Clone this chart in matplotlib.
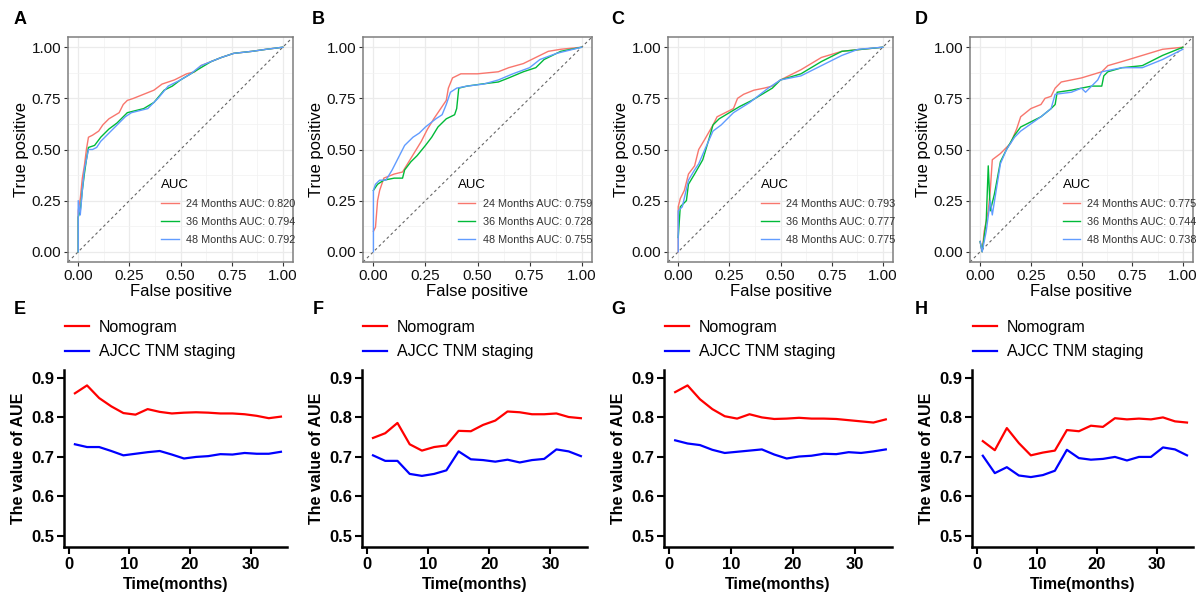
import matplotlib
matplotlib.use("Agg")
import matplotlib.pyplot as plt
import numpy as np

plt.rcParams['font.family'] = ['Liberation Sans', 'DejaVu Sans']

roc_colors = ['#F8766D', '#00BA38', '#619CFF']
roc_names = ['24 Months AUC: ', '36 Months AUC: ', '48 Months AUC: ']

# ROC curves, (false positive, true positive)
roc_a_24 = [(0, 0), (0, 0.2), (0.01, 0.26), (0.02, 0.36), (0.03, 0.42), (0.04, 0.5),
            (0.05, 0.56), (0.07, 0.57), (0.1, 0.59), (0.12, 0.62), (0.15, 0.65),
            (0.2, 0.68), (0.22, 0.72), (0.24, 0.74), (0.27, 0.75), (0.32, 0.77),
            (0.37, 0.79), (0.41, 0.82), (0.47, 0.84), (0.53, 0.87), (0.57, 0.88),
            (0.6, 0.91), (0.65, 0.93), (0.7, 0.95), (0.76, 0.97), (0.85, 0.98),
            (0.92, 0.99), (1, 1)]
roc_a_36 = [(0, 0), (0, 0.17), (0.01, 0.2), (0.02, 0.3), (0.03, 0.38), (0.04, 0.45),
            (0.05, 0.51), (0.08, 0.52), (0.11, 0.56), (0.15, 0.6), (0.19, 0.63),
            (0.24, 0.68), (0.28, 0.69), (0.32, 0.7), (0.37, 0.73), (0.42, 0.79),
            (0.46, 0.81), (0.5, 0.84), (0.55, 0.87), (0.6, 0.9), (0.65, 0.93),
            (0.7, 0.95), (0.76, 0.97), (0.85, 0.98), (0.92, 0.99), (1, 1)]
roc_a_48 = [(0, 0), (0, 0.25), (0.01, 0.18), (0.02, 0.3), (0.03, 0.4), (0.05, 0.5),
            (0.07, 0.5), (0.09, 0.51), (0.11, 0.54), (0.15, 0.58), (0.19, 0.62),
            (0.23, 0.66), (0.26, 0.68), (0.3, 0.69), (0.34, 0.7), (0.39, 0.75),
            (0.44, 0.81), (0.5, 0.84), (0.55, 0.87), (0.6, 0.91), (0.65, 0.93),
            (0.7, 0.95), (0.76, 0.97), (0.85, 0.98), (0.92, 0.99), (1, 1)]
auc_a = ['0.820', '0.794', '0.792']

roc_b_24 = [(0, 0.1), (0.01, 0.12), (0.02, 0.25), (0.03, 0.3), (0.05, 0.36),
            (0.1, 0.38), (0.14, 0.39), (0.17, 0.44), (0.2, 0.49), (0.23, 0.54),
            (0.26, 0.6), (0.29, 0.65), (0.31, 0.68), (0.33, 0.71), (0.35, 0.74),
            (0.36, 0.8), (0.38, 0.85), (0.42, 0.87), (0.5, 0.87), (0.6, 0.88),
            (0.65, 0.9), (0.72, 0.92), (0.78, 0.95), (0.84, 0.98), (0.9, 0.99), (1, 1)]
roc_b_36 = [(0, 0.3), (0.02, 0.33), (0.05, 0.35), (0.1, 0.36), (0.14, 0.36),
            (0.15, 0.4), (0.18, 0.44), (0.21, 0.47), (0.25, 0.52), (0.28, 0.56),
            (0.31, 0.61), (0.35, 0.65), (0.39, 0.67), (0.4, 0.7), (0.41, 0.8),
            (0.45, 0.81), (0.52, 0.82), (0.6, 0.83), (0.65, 0.85), (0.72, 0.88),
            (0.78, 0.9), (0.82, 0.94), (0.9, 0.98), (1, 1)]
roc_b_48 = [(0, 0), (0, 0.3), (0.01, 0.33), (0.03, 0.35), (0.06, 0.35), (0.09, 0.4),
            (0.12, 0.46), (0.15, 0.52), (0.19, 0.56), (0.22, 0.58), (0.25, 0.61),
            (0.3, 0.65), (0.33, 0.67), (0.35, 0.72), (0.37, 0.78), (0.4, 0.8),
            (0.45, 0.81), (0.53, 0.82), (0.6, 0.84), (0.67, 0.87), (0.75, 0.9),
            (0.8, 0.94), (0.88, 0.97), (1, 1)]
auc_b = ['0.759', '0.728', '0.755']

roc_c_24 = [(0, 0), (0, 0.22), (0.01, 0.26), (0.03, 0.3), (0.05, 0.38), (0.08, 0.42),
            (0.1, 0.5), (0.13, 0.55), (0.17, 0.62), (0.19, 0.66), (0.23, 0.68),
            (0.27, 0.7), (0.29, 0.75), (0.32, 0.77), (0.37, 0.79), (0.42, 0.8),
            (0.46, 0.81), (0.5, 0.84), (0.6, 0.89), (0.7, 0.95), (0.8, 0.98), (1, 1)]
roc_c_36 = [(0, 0.07), (0.01, 0.22), (0.04, 0.25), (0.05, 0.33), (0.08, 0.38),
            (0.12, 0.45), (0.15, 0.55), (0.17, 0.62), (0.2, 0.65), (0.25, 0.68),
            (0.3, 0.71), (0.36, 0.74), (0.41, 0.77), (0.46, 0.8), (0.5, 0.84),
            (0.6, 0.87), (0.7, 0.93), (0.8, 0.98), (1, 1)]
roc_c_48 = [(0, 0), (0, 0.2), (0.02, 0.22), (0.05, 0.35), (0.08, 0.4), (0.1, 0.43),
            (0.13, 0.5), (0.17, 0.59), (0.21, 0.62), (0.27, 0.68), (0.35, 0.73),
            (0.44, 0.8), (0.5, 0.84), (0.6, 0.86), (0.7, 0.91), (0.8, 0.96),
            (0.88, 0.99), (1, 1)]
auc_c = ['0.793', '0.777', '0.775']

roc_d_24 = [(0, 0.05), (0.01, 0.0), (0.02, 0.1), (0.04, 0.2), (0.05, 0.3),
            (0.06, 0.45), (0.1, 0.48), (0.15, 0.53), (0.18, 0.6), (0.2, 0.66),
            (0.25, 0.7), (0.3, 0.72), (0.32, 0.75), (0.35, 0.76), (0.37, 0.8),
            (0.4, 0.83), (0.5, 0.85), (0.6, 0.88), (0.63, 0.91), (0.7, 0.93),
            (0.8, 0.96), (0.9, 0.99), (1, 1)]
roc_d_36 = [(0, 0.05), (0.01, 0.0), (0.03, 0.15), (0.04, 0.42), (0.05, 0.2),
            (0.07, 0.28), (0.1, 0.44), (0.13, 0.5), (0.17, 0.57), (0.2, 0.61),
            (0.3, 0.66), (0.35, 0.7), (0.37, 0.72), (0.38, 0.78), (0.45, 0.79),
            (0.55, 0.81), (0.6, 0.81), (0.61, 0.86), (0.63, 0.88), (0.7, 0.9),
            (0.8, 0.91), (0.9, 0.96), (1, 1)]
roc_d_48 = [(0, 0.05), (0.01, 0.0), (0.03, 0.1), (0.05, 0.25), (0.06, 0.18),
            (0.1, 0.43), (0.13, 0.5), (0.17, 0.56), (0.2, 0.59), (0.3, 0.66),
            (0.35, 0.7), (0.37, 0.77), (0.45, 0.78), (0.5, 0.8), (0.52, 0.78),
            (0.58, 0.84), (0.6, 0.88), (0.7, 0.9), (0.8, 0.9), (0.9, 0.94), (1, 0.99)]
auc_d = ['0.775', '0.744', '0.738']

# time dependent AUC
time_months = [1, 3, 5, 7, 9, 11, 13, 15, 17, 19, 21, 23, 25, 27, 29, 31, 33, 35]
nomo_e = [0.861, 0.881, 0.849, 0.828, 0.811, 0.807, 0.821, 0.814, 0.810, 0.812,
          0.813, 0.812, 0.810, 0.810, 0.808, 0.804, 0.798, 0.802]
ajcc_e = [0.732, 0.725, 0.725, 0.715, 0.704, 0.708, 0.712, 0.715, 0.706, 0.696,
          0.700, 0.702, 0.707, 0.706, 0.710, 0.708, 0.708, 0.713]
nomo_f = [0.748, 0.760, 0.786, 0.732, 0.716, 0.725, 0.729, 0.766, 0.765, 0.781,
          0.792, 0.815, 0.813, 0.808, 0.808, 0.810, 0.801, 0.798]
ajcc_f = [0.704, 0.690, 0.690, 0.657, 0.652, 0.657, 0.666, 0.714, 0.694, 0.692,
          0.688, 0.693, 0.686, 0.692, 0.695, 0.719, 0.714, 0.702]
nomo_g = [0.864, 0.881, 0.846, 0.821, 0.803, 0.797, 0.808, 0.800, 0.796, 0.797,
          0.799, 0.797, 0.797, 0.796, 0.793, 0.790, 0.787, 0.795]
ajcc_g = [0.742, 0.734, 0.730, 0.718, 0.710, 0.713, 0.716, 0.719, 0.706, 0.696,
          0.701, 0.703, 0.708, 0.707, 0.712, 0.710, 0.714, 0.719]
nomo_h = [0.740, 0.717, 0.773, 0.735, 0.704, 0.711, 0.716, 0.768, 0.765, 0.779,
          0.776, 0.798, 0.795, 0.797, 0.795, 0.800, 0.790, 0.787]
ajcc_h = [0.703, 0.659, 0.674, 0.653, 0.649, 0.654, 0.665, 0.718, 0.697, 0.693,
          0.695, 0.700, 0.691, 0.700, 0.700, 0.724, 0.719, 0.704]

W, H = 1203, 592


def px_axes(fig, left, right, top, bottom):
    return fig.add_axes([left / W, 1 - bottom / H, (right - left) / W, (bottom - top) / H])


def draw_roc(ax, curves, aucs):
    ax.set_xlim(-0.05, 1.05)
    ax.set_ylim(-0.05, 1.05)
    ticks = [0, 0.25, 0.5, 0.75, 1.0]
    ax.set_xticks(ticks)
    ax.set_yticks(ticks)
    ax.set_xticklabels(['%.2f' % t for t in ticks])
    ax.set_yticklabels(['%.2f' % t for t in ticks])
    ax.set_xticks([0.125, 0.375, 0.625, 0.875], minor=True)
    ax.set_yticks([0.125, 0.375, 0.625, 0.875], minor=True)
    ax.grid(which='major', color='#EBEBEB', lw=0.9)
    ax.grid(which='minor', color='#F2F2F2', lw=0.5)
    ax.set_axisbelow(True)
    ax.tick_params(which='minor', length=0)
    ax.tick_params(which='major', length=3, width=0.8, color='#333333',
                   labelsize=11, pad=2, labelcolor='#111111')
    for s in ax.spines.values():
        s.set_color('#7F7F7F')
        s.set_linewidth(1.1)
    ax.axline((0, 0), (1, 1), color='#666666', lw=0.8, ls=(0, (2.5, 2.5)))
    for pts, col, name, auc in zip(curves, roc_colors, roc_names, aucs):
        pts = np.array(pts)
        ax.plot(pts[:, 0], pts[:, 1], color=col, lw=1.0, label=name + auc)
    ax.set_xlabel('False positive', fontsize=12, labelpad=1)
    ax.set_ylabel('True positive', fontsize=12, labelpad=2)
    leg = ax.legend(title='AUC', loc='upper left', bbox_to_anchor=(0.415, 0.37),
                    frameon=False, fontsize=7.8, title_fontsize=9.5,
                    handlelength=1.6, handletextpad=0.7, labelspacing=0.75,
                    borderpad=0, borderaxespad=0, alignment='left')
    for t in leg.get_texts():
        t.set_color('#333333')


def draw_aue(ax, nomo, ajcc):
    ax.plot(time_months, nomo, color='#FF0000', lw=1.6, label='Nomogram')
    ax.plot(time_months, ajcc, color='#0000FF', lw=1.6, label='AJCC TNM staging')
    ax.set_xlim(-0.8, 36)
    ax.set_ylim(0.472, 0.92)
    ax.set_xticks([0, 10, 20, 30])
    ax.set_yticks([0.5, 0.6, 0.7, 0.8, 0.9])
    ax.spines['top'].set_visible(False)
    ax.spines['right'].set_visible(False)
    for s in ('left', 'bottom'):
        ax.spines[s].set_linewidth(1.8)
    ax.tick_params(length=5, width=1.5, labelsize=12, pad=2)
    for lbl in ax.get_xticklabels() + ax.get_yticklabels():
        lbl.set_fontweight('bold')
    ax.set_xlabel('Time(months)', fontsize=11.5, fontweight='bold', labelpad=4)
    ax.set_ylabel('The value of AUE', fontsize=11.5, fontweight='bold', labelpad=4)
    ax.legend(loc='upper left', bbox_to_anchor=(0.005, 1.285), frameon=False,
              fontsize=11.5, handlelength=1.5, handletextpad=0.6,
              labelspacing=0.6, borderpad=0, borderaxespad=0)


fig = plt.figure(figsize=(W / 100, H / 100), dpi=100)

top_boxes = [(68, 293), (363, 592), (668, 893), (970, 1193)]
bottom_boxes = [(64, 287), (362, 587), (664, 892), (972, 1193)]
roc_sets = [
    ([roc_a_24, roc_a_36, roc_a_48], auc_a),
    ([roc_b_24, roc_b_36, roc_b_48], auc_b),
    ([roc_c_24, roc_c_36, roc_c_48], auc_c),
    ([roc_d_24, roc_d_36, roc_d_48], auc_d),
]
aue_sets = [(nomo_e, ajcc_e), (nomo_f, ajcc_f), (nomo_g, ajcc_g), (nomo_h, ajcc_h)]
top_letters = ['A', 'B', 'C', 'D']
bottom_letters = ['E', 'F', 'G', 'H']
letter_x = [20, 318, 618, 921]

for i in range(4):
    ax = px_axes(fig, top_boxes[i][0], top_boxes[i][1], 37, 262)
    draw_roc(ax, *roc_sets[i])
    fig.text(letter_x[i] / W, 1 - 20 / H, top_letters[i], fontsize=13,
             fontweight='bold', ha='center', va='center')

    ax = px_axes(fig, bottom_boxes[i][0], bottom_boxes[i][1], 370, 547)
    draw_aue(ax, *aue_sets[i])
    fig.text(letter_x[i] / W, 1 - 310 / H, bottom_letters[i], fontsize=13,
             fontweight='bold', ha='center', va='center')

fig.savefig('out.png', dpi=100)
